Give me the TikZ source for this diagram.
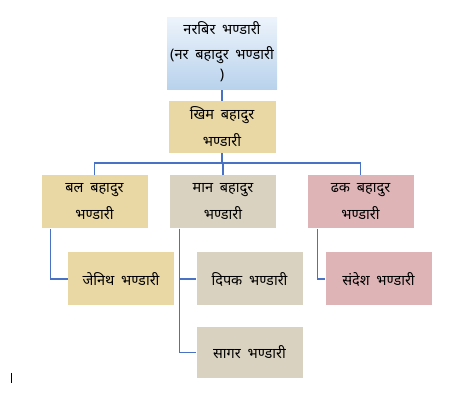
\documentclass[tikz,border=0pt]{standalone}
\usepackage{fontspec}
\newfontfamily\deva[Script=Devanagari,WordSpace=1.8]{Noto Sans}
\definecolor{linkblue}{RGB}{74,114,196}
\definecolor{papyrus}{RGB}{234,216,164}
\definecolor{burlap}{RGB}{218,210,192}
\definecolor{rose}{RGB}{222,180,182}
\definecolor{skytop}{RGB}{236,243,251}
\definecolor{skybot}{RGB}{184,210,236}
\tikzset{
  box/.style={rectangle, inner sep=0pt, minimum width=106pt, minimum height=53pt,
    align=center, font=\deva\fontsize{14.5}{27}\selectfont},
  papbox/.style={box, fill=papyrus},
  burbox/.style={box, fill=burlap},
  rosebox/.style={box, fill=rose},
  link/.style={draw=linkblue, line width=1.2pt}
}
\begin{document}
\begin{tikzpicture}[x=1pt,y=-1pt]
\useasboundingbox (0,0) rectangle (467,401);

% top
\node[box, minimum width=110pt, minimum height=72pt, top color=skytop, bottom color=skybot,
  font=\deva\fontsize{14.5}{22}\selectfont] (narbir) at (222,54)
  {नरबिर भण्डारी\\[3pt](नर बहादुर भण्डारी\\[-2pt])\\[-15pt]\mbox{}};
\node[papbox, minimum width=107pt, minimum height=52pt] (khim) at (222,127) {खिम बहादुर\\भण्डारी};

% second row
\node[papbox] (bal) at (94.5,202) {बल बहादुर\\भण्डारी};
\node[burbox] (man) at (223,202) {मान बहादुर\\भण्डारी};
\node[rosebox] (dhak) at (360.5,202) {ढक बहादुर\\भण्डारी};

% third row
\node[papbox] (jenith) at (121,279) {जेनिथ भण्डारी};
\node[burbox] (dipak) at (249.5,279) {दिपक भण्डारी};
\node[burbox, minimum height=51pt] (sagar) at (249.5,352.5) {सागर भण्डारी};
\node[rosebox] (sandesh) at (378.5,279) {संदेश भण्डारी};

\coordinate (bus) at (222,163);

\draw[link] (narbir.south) -- (khim.north);
\draw[link] (khim.south) -- (bus);
\draw[link] (bal.north) |- (bus) -| (dhak.north);
\draw[link] (man.north) |- (bus);

\draw[link] ([xshift=9pt]bal.south west) |- (jenith.west);
\draw[link] ([xshift=10pt]man.south west) |- (dipak.west);
\draw[link] ([xshift=10pt]man.south west) |- (sagar.west);
\draw[link] ([xshift=10pt]dhak.south west) |- (sandesh.west);

% cursor
\draw[line width=1pt] (11,373) -- (11,383);
\end{tikzpicture}
\end{document}
